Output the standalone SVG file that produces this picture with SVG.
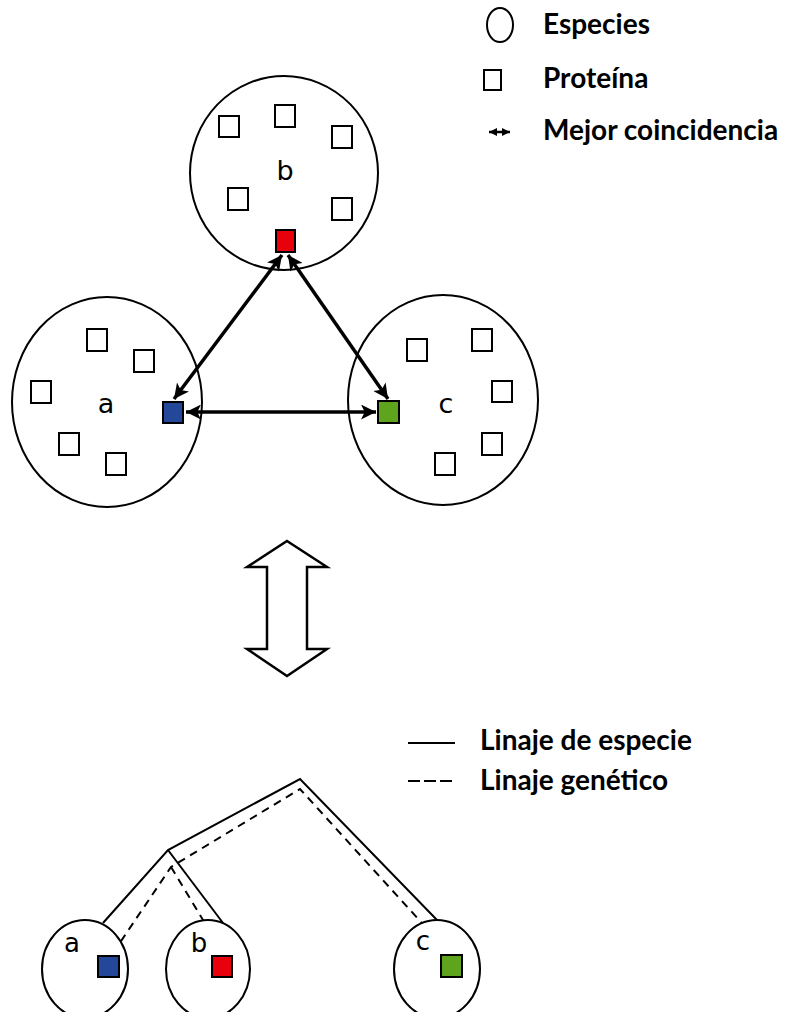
<svg xmlns="http://www.w3.org/2000/svg" width="789" height="1012" viewBox="0 0 789 1012">
<defs>
<style>
.sp{fill:#fff;stroke:#000;stroke-width:2}
.pr{fill:#fff;stroke:#000;stroke-width:2}
.lbl{font-family:"DejaVu Sans",Verdana,sans-serif;font-size:27px;fill:#000;text-anchor:middle}
.lbl2{font-family:"DejaVu Sans",Verdana,sans-serif;font-size:26px;fill:#000;text-anchor:middle}
.leg{font-family:Lato,"Liberation Sans",sans-serif;font-weight:700;font-size:28px;fill:#000}
.arr{stroke:#000;stroke-width:3.5;fill:none;marker-start:url(#ah);marker-end:url(#ah)}
.tree{stroke:#000;stroke-width:2;fill:none}
.gene{stroke:#000;stroke-width:2;fill:none;stroke-dasharray:8 6}
</style>
<marker id="ah" viewBox="0 0 10 10" refX="10" refY="5" markerWidth="17" markerHeight="15" markerUnits="userSpaceOnUse" orient="auto-start-reverse">
<path d="M0,0 L10,5 L0,10 L2.5,5 Z" fill="#000"/>
</marker>
<marker id="ahs" viewBox="0 0 10 10" refX="10" refY="5" markerWidth="8" markerHeight="8" markerUnits="userSpaceOnUse" orient="auto-start-reverse">
<path d="M0,0 L10,5 L0,10 Z" fill="#000"/>
</marker>
</defs>
<rect width="789" height="1012" fill="#fff"/>

<g id="legend-top">
<ellipse cx="500" cy="25" rx="13" ry="17" class="sp"/>
<text x="543" y="34" class="leg">Especies</text>
<rect x="484" y="70" width="17" height="20" class="pr"/>
<text x="543" y="88" class="leg">Proteína</text>
<line x1="489" y1="132" x2="510" y2="132" stroke="#000" stroke-width="2.5" marker-start="url(#ahs)" marker-end="url(#ahs)"/>
<text x="543" y="140" class="leg">Mejor coincidencia</text>
</g>

<g id="species-b">
<ellipse cx="284" cy="173" rx="94" ry="97" class="sp"/>
<rect x="219" y="116" width="20" height="21" class="pr"/>
<rect x="275" y="105" width="20" height="22" class="pr"/>
<rect x="332" y="126" width="20" height="22" class="pr"/>
<rect x="228" y="188" width="20" height="22" class="pr"/>
<rect x="332" y="198" width="20" height="22" class="pr"/>
<rect x="276" y="230" width="19" height="22" fill="#e8000b" stroke="#000" stroke-width="2"/>
<text x="285" y="180" class="lbl">b</text>
</g>

<g id="species-a">
<ellipse cx="107" cy="402" rx="95" ry="105" class="sp"/>
<rect x="87" y="329" width="20" height="22" class="pr"/>
<rect x="134" y="350" width="20" height="22" class="pr"/>
<rect x="31" y="381" width="20" height="22" class="pr"/>
<rect x="59" y="433" width="20" height="22" class="pr"/>
<rect x="106" y="453" width="20" height="22" class="pr"/>
<rect x="163" y="402" width="20" height="21" fill="#23489a" stroke="#000" stroke-width="2"/>
<text x="106" y="413" class="lbl">a</text>
</g>

<g id="species-c">
<ellipse cx="443" cy="400" rx="95" ry="105" class="sp"/>
<rect x="407" y="339" width="20" height="22" class="pr"/>
<rect x="472" y="329" width="20" height="22" class="pr"/>
<rect x="492" y="381" width="20" height="21" class="pr"/>
<rect x="482" y="433" width="20" height="22" class="pr"/>
<rect x="435" y="453" width="20" height="22" class="pr"/>
<rect x="378" y="401" width="21" height="22" fill="#5ea41c" stroke="#000" stroke-width="2"/>
<text x="446" y="413" class="lbl">c</text>
</g>

<g id="connectors">
<line x1="186" y1="412" x2="376" y2="412" class="arr"/>
<line x1="282" y1="255" x2="174" y2="399" class="arr"/>
<line x1="288" y1="255" x2="388" y2="399" class="arr"/>
</g>

<g id="big-arrow">
<polygon points="287,541 327,567 307,567 307,649 327,649 287,676 247,649 267,649 267,567 247,567" fill="#fff" stroke="#000" stroke-width="2.5" stroke-linejoin="miter"/>
</g>

<g id="legend-bottom">
<line x1="408" y1="743" x2="455" y2="743" class="tree"/>
<text x="480" y="750" class="leg">Linaje de especie</text>
<line x1="408" y1="781" x2="455" y2="781" stroke="#000" stroke-width="2" stroke-dasharray="12 4"/>
<text x="480" y="790" class="leg">Linaje genético</text>
</g>

<g id="tree-species">
<path d="M103,923 L168,850 L300,779 L437,920" class="tree"/>
<path d="M168,850 L223,923" class="tree"/>
</g>

<g id="tree-genes">
<path d="M113,953 L171,867 L300,789 L451,955" class="gene"/>
<path d="M171,867 L223,953" class="gene"/>
</g>

<g id="leaf-a">
<ellipse cx="85" cy="969" rx="43" ry="49" class="sp"/>
<rect x="98" y="956" width="21" height="21" fill="#23489a" stroke="#000" stroke-width="2"/>
<text x="72" y="952" class="lbl2">a</text>
</g>
<g id="leaf-b">
<ellipse cx="208" cy="969" rx="42" ry="49" class="sp"/>
<rect x="212" y="956" width="20" height="21" fill="#e8000b" stroke="#000" stroke-width="2"/>
<text x="199" y="952" class="lbl2">b</text>
</g>
<g id="leaf-c">
<ellipse cx="437" cy="969" rx="43" ry="49" class="sp"/>
<rect x="441" y="955" width="21" height="22" fill="#5ea41c" stroke="#000" stroke-width="2"/>
<text x="423" y="950" class="lbl2">c</text>
</g>
</svg>
